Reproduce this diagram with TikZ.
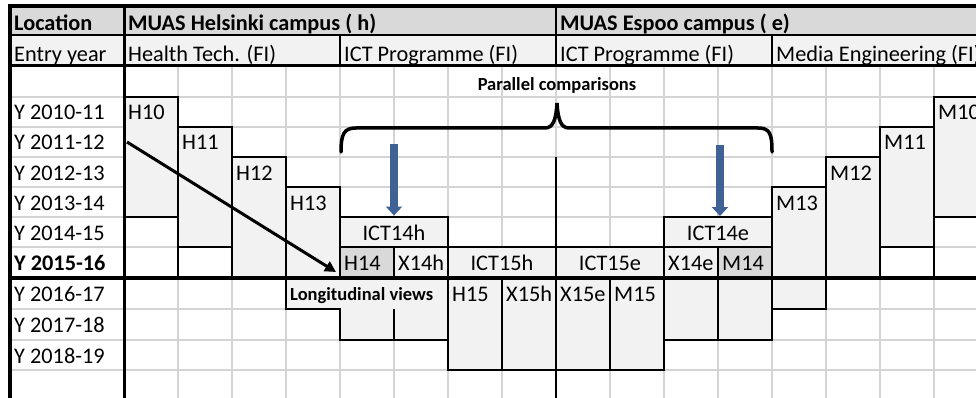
\documentclass[tikz,border=0pt]{standalone}
\usepackage{fontspec}
\setmainfont{Carlito}
\usetikzlibrary{arrows.meta}
\definecolor{hdr}{HTML}{D9D9D9}
\definecolor{lite}{HTML}{F2F2F2}
\definecolor{gridgray}{HTML}{D4D4D4}
\definecolor{arrowblue}{RGB}{63,98,150}
\tikzset{
  gridline/.style={draw=gridgray, line width=2pt},
  blk/.style={draw=black, line width=2.5pt},
  cellbox/.style={draw=black, fill=lite, line width=2.5pt, rectangle, inner sep=0pt, outer sep=0pt},
  darkcell/.style={cellbox, fill=hdr},
  txt/.style={font=\fontsize{22.3}{26}\selectfont, inner sep=0pt, anchor=base west},
  ctxt/.style={txt, anchor=base},
  btxt/.style={font=\fontsize{22.3}{26}\selectfont\bfseries, inner sep=0pt, anchor=base west},
  stxt/.style={font=\fontsize{18.5}{22}\selectfont\bfseries, inner sep=0pt},
}
\begin{document}
\begin{tikzpicture}[x=1pt,y=-1pt]
\useasboundingbox (0,0) rectangle (976,398);
\clip (0,0) rectangle (976,398);
\fill[white] (0,0) rectangle (976,398);
% header fills
\fill[hdr] (10,6) rectangle (976,35);
\fill[lite] (10,35) rectangle (976,66);
% grid
\foreach \y in {97,127,157,187,217,247,309,340,370} \draw[gridline] (10,\y) -- (976,\y);
\foreach \x in {178,232,...,934} \draw[gridline] (\x,66) -- (\x,398);

% Helsinki Health Tech boxes
\node[cellbox, minimum width=54pt, minimum height=120pt] (h10box) at (151,157) {};
\node[cellbox, minimum width=54pt, minimum height=120pt] (h11box) at (205,187) {};
\node[cellbox, minimum width=54pt, minimum height=121pt] (h12box) at (259,217.5) {};
\node[cellbox, minimum width=54pt, minimum height=91pt] (h13box) at (313,232.5) {};
% ICT Helsinki
\node[cellbox, minimum width=108pt, minimum height=30pt] (ict14hbox) at (394,232) {};
\node[darkcell, minimum width=54pt, minimum height=31pt] (h14box) at (367,262.5) {};
\node[cellbox, minimum width=54pt, minimum height=31pt] (x14hbox) at (421,262.5) {};
\draw[cellbox] (286,278) -- (448,278) -- (448,340) -- (340,340) -- (340,309) -- (286,309) -- cycle;
\draw[blk] (394,309) -- (394,340);
\node[cellbox, minimum width=108pt, minimum height=31pt] (ict15hbox) at (502,262.5) {};
\node[cellbox, minimum width=108pt, minimum height=31pt] (ict15ebox) at (610,262.5) {};
% ICT Espoo
\node[cellbox, minimum width=108pt, minimum height=30pt] (ict14ebox) at (718,232) {};
\node[cellbox, minimum width=54pt, minimum height=93pt] (x14ebox) at (691,293.5) {};
\node[cellbox, minimum width=54pt, minimum height=93pt] (m14box) at (745,293.5) {};
\node[darkcell, minimum width=54pt, minimum height=31pt] (m14top) at (745,262.5) {};
% Media Engineering
\node[cellbox, minimum width=54pt, minimum height=122pt] (m13box) at (799,248) {};
\node[cellbox, minimum width=54pt, minimum height=121pt] (m12box) at (853,217.5) {};
\node[cellbox, minimum width=54pt, minimum height=120pt] (m11box) at (907,187) {};
\node[cellbox, minimum width=54pt, minimum height=120pt] (m10box) at (961,157) {};
% 2015 lower boxes
\node[cellbox, minimum width=54pt, minimum height=92pt] (h15box) at (475,324) {};
\node[cellbox, minimum width=54pt, minimum height=92pt] (x15hbox) at (529,324) {};
\node[cellbox, minimum width=54pt, minimum height=92pt] (x15ebox) at (583,324) {};
\node[cellbox, minimum width=54pt, minimum height=92pt] (m15box) at (637,324) {};

% extra black lines
\draw[blk] (178,247) -- (178,278);
\draw[blk] (934,247) -- (934,278);
% structural black lines
\draw[black, line width=3.5pt] (10,6) -- (976,6);
\draw[blk] (10,35) -- (976,35);
\draw[black, line width=3pt] (10,66) -- (976,66);
\draw[black, line width=3.5pt] (10,4.5) -- (10,398);
\draw[black, line width=3pt] (124,6) -- (124,398);
\draw[blk] (556,6) -- (556,66);
\draw[blk] (556,157) -- (556,398);
\draw[blk] (340,35) -- (340,66);
\draw[blk] (772,35) -- (772,66);
\draw[black, line width=4pt] (10,278) -- (976,278);

% header texts
\node[btxt] (loc) at (14,31) {Location};
\node[btxt] (hel) at (128,31) {MUAS Helsinki campus ( h)};
\node[btxt] (esp) at (560,31) {MUAS Espoo campus ( e)};
\node[txt] (entry) at (14,61.5) {Entry year};
\node[txt] (ht) at (128,61.5) {Health Tech. (FI)};
\node[txt] (icth) at (344,61.5) {ICT Programme (FI)};
\node[txt] (icte) at (560,61.5) {ICT Programme (FI)};
\node[txt] (me) at (776,61.5) {Media Engineering (FI)};

% row labels
\node[txt] (y10) at (14,120) {Y 2010-11};
\node[txt] (y11) at (14,150) {Y 2011-12};
\node[txt] (y12) at (14,180) {Y 2012-13};
\node[txt] (y13) at (14,210) {Y 2013-14};
\node[txt] (y14) at (14,240) {Y 2014-15};
\node[btxt] (y15) at (14,270.5) {Y 2015-16};
\node[txt] (y16) at (14,301.5) {Y 2016-17};
\node[txt] (y17) at (14,332.5) {Y 2017-18};
\node[txt] (y18) at (14,363) {Y 2018-19};

% cell texts
\node[txt] (h10) at (128,120) {H10};
\node[txt] (h11) at (182,150) {H11};
\node[txt] (h12) at (236,180) {H12};
\node[txt] (h13) at (290,210) {H13};
\node[ctxt] (ict14h) at (394,240) {ICT14h};
\node[txt] (h14) at (344,270.5) {H14};
\node[txt] (x14h) at (398,270.5) {X14h};
\node[ctxt] (ict15h) at (502,270.5) {ICT15h};
\node[ctxt] (ict15e) at (610,270.5) {ICT15e};
\node[txt] (x14e) at (668,270.5) {X14e};
\node[txt] (m14) at (722,270.5) {M14};
\node[ctxt] (ict14e) at (718,240) {ICT14e};
\node[txt] (m13) at (776,210) {M13};
\node[txt] (m12) at (830,180) {M12};
\node[txt] (m11) at (884,150) {M11};
\node[txt] (m10) at (938,120) {M10};
\node[txt] (h15) at (452,301.5) {H15};
\node[txt] (x15h) at (506,301.5) {X15h};
\node[txt] (x15e) at (560,301.5) {X15e};
\node[txt] (m15) at (614,301.5) {M15};
\node[stxt, anchor=base] (par) at (557,90.5) {Parallel comparisons};
\node[stxt, anchor=base west] (lon) at (290,300.5) {Longitudinal views};

% brace
\draw[black, line width=3.5pt, line cap=round]
  (341,152) .. controls (341,134) and (344,128) .. (356,128) -- (545,128)
  .. controls (553,128) and (556,120) .. (557,103)
  .. controls (558,120) and (561,128) .. (569,128) -- (758,128)
  .. controls (770,128) and (772,134) .. (772,152);

% blue arrows
\coordinate (bluetop1) at (394,144);
\coordinate (bluetop2) at (720,145);
\draw[arrowblue, line width=7.5pt, -{Triangle[width=16pt,length=9pt]}] (bluetop1) -- ([yshift=1.5pt]ict14hbox.north);
\draw[arrowblue, line width=7.5pt, -{Triangle[width=16pt,length=9pt]}] (bluetop2) -- ([xshift=2pt,yshift=1pt]ict14ebox.north);

% diagonal arrow
\coordinate (diagstart) at (127,142);
\coordinate (diagend) at (336,272);
\draw[black, line width=3pt, -{Triangle[width=11pt,length=11pt]}] (diagstart) -- (diagend);
\end{tikzpicture}
\end{document}
